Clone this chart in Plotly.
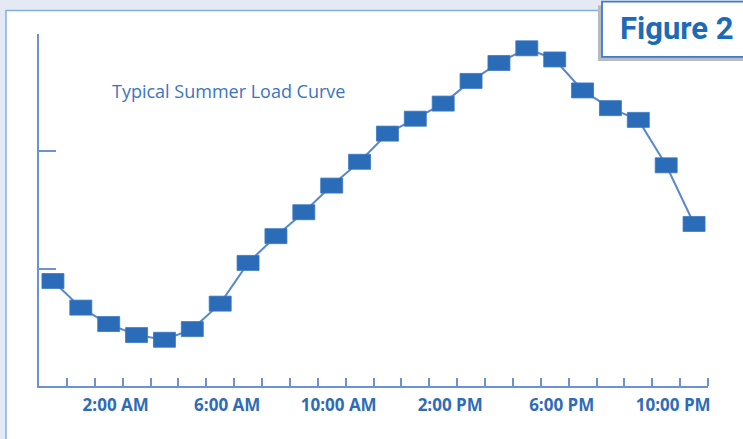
import plotly.graph_objects as go

# ---- data ----
hours = list(range(24))
load = [0.895, 0.668, 0.528, 0.434, 0.394, 0.485, 0.702, 1.049, 1.277, 1.481,
        1.708, 1.911, 2.151, 2.278, 2.407, 2.600, 2.753, 2.878, 2.783, 2.519,
        2.368, 2.268, 1.881, 1.381]
label_hours = [2, 6, 10, 14, 18, 22]
label_text = ["2:00 AM", "6:00 AM", "10:00 AM", "2:00 PM", "6:00 PM", "10:00 PM"]
hour_edges = [h + 0.5 for h in hours]
y_ticks = [1, 2, 3]
title_text = "Typical Summer Load Curve"
figure_label = "Figure 2"

# ---- layout constants (pixels) ----
W, H = 743, 439
ML, MR, MT, MB = 39, 35, 33.5, 53
PW = W - ML - MR
PH = H - MT - MB

def px_x(px):
    return (px - ML) / PW

def px_y(py):
    return (H - MB - py) / PH

AXIS = "#6b93d4"
MARK = "#2b6cb9"
LINE = "#5a88cc"
TXT = "#2f6cb7"

fig = go.Figure()
fig.add_trace(go.Scatter(x=hours, y=load, mode="lines",
                         line=dict(color=LINE, width=2), hoverinfo="skip",
                         showlegend=False))

shapes = []
# white panel with thin blue border
shapes.append(dict(type="rect", xref="paper", yref="paper",
                   x0=px_x(6), x1=px_x(760), y0=px_y(460), y1=px_y(10),
                   fillcolor="white", line=dict(color="#86ade2", width=1.5),
                   layer="below"))
# rectangular markers
for h, v in zip(hours, load):
    shapes.append(dict(type="rect", xref="x", yref="y",
                       xsizemode="pixel", ysizemode="pixel",
                       xanchor=h, yanchor=v, x0=-11, x1=11, y0=-7.5, y1=7.5,
                       fillcolor=MARK, line=dict(color="#3a78c2", width=0.8),
                       layer="above"))
# Figure label box with shadow
shapes.append(dict(type="rect", xref="paper", yref="paper",
                   x0=px_x(598), x1=px_x(760), y0=px_y(60.5), y1=px_y(5),
                   fillcolor="#b7bac3", line=dict(width=0), layer="above"))
shapes.append(dict(type="rect", xref="paper", yref="paper",
                   x0=px_x(602), x1=px_x(760), y0=px_y(56.5), y1=px_y(1),
                   fillcolor="white", line=dict(color="#3e7bc8", width=1.8),
                   layer="above"))

annotations = [
    dict(text=title_text, xref="paper", yref="paper", x=px_x(110), y=px_y(91),
         xanchor="left", yanchor="middle", showarrow=False,
         font=dict(family="Open Sans", size=18, color="#3b74be")),
    dict(text=figure_label, xref="paper", yref="paper", x=px_x(677), y=px_y(28),
         xanchor="center", yanchor="middle", showarrow=False,
         font=dict(family="Roboto", size=31, color="#1c6bb7", weight="bold")),
]

fig.update_layout(
    width=W, height=H,
    margin=dict(l=ML, r=MR, t=MT, b=MB, pad=0),
    paper_bgcolor="#e4e9f4",
    plot_bgcolor="rgba(0,0,0,0)",
    shapes=shapes,
    annotations=annotations,
    showlegend=False,
    xaxis=dict(range=[-0.5, 23.5], showgrid=False, zeroline=False,
               showline=True, linecolor=AXIS, linewidth=2,
               tickmode="array", tickvals=label_hours, ticktext=label_text,
               ticks="", ticklabelshift=7, ticklabelstandoff=3,
               tickfont=dict(family="Open Sans", size=17, color=TXT, weight=700),
               minor=dict(tickmode="array", tickvals=hour_edges, ticks="inside",
                          ticklen=8, tickwidth=2, tickcolor=AXIS, showgrid=False)),
    yaxis=dict(range=[0, 3], showgrid=False, zeroline=False,
               showline=True, linecolor=AXIS, linewidth=2,
               tickmode="array", tickvals=y_ticks, ticks="inside",
               ticklen=17, tickwidth=2, tickcolor=AXIS, showticklabels=False),
)

fig.write_html("out.html", config={"displayModeBar": False},
               post_script="document.body.style.margin='0';document.body.style.overflow='hidden';")
